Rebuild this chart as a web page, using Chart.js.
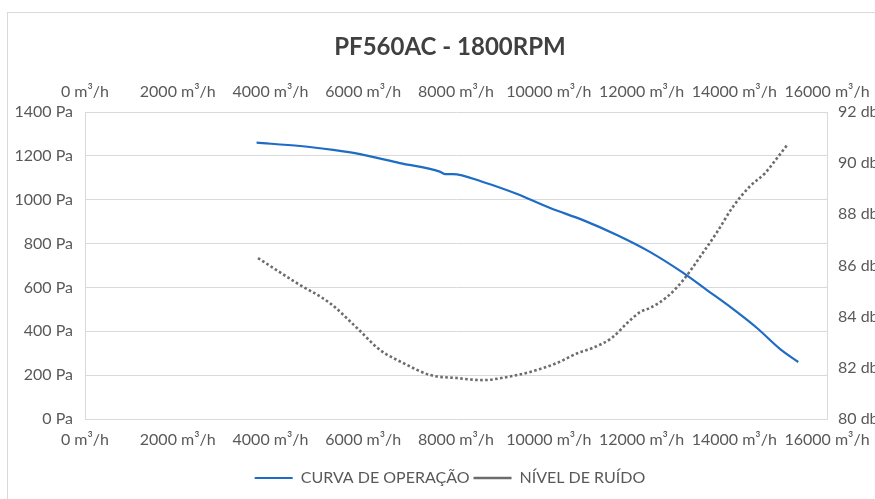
<!DOCTYPE html>
<html><head><meta charset="utf-8">
<script src="https://cdn.jsdelivr.net/npm/chart.js@4"></script>
<style>
html,body{margin:0;padding:0;background:#fff;overflow:hidden;width:875px;height:499px;}
#frame{position:absolute;left:7px;top:12px;width:1000px;height:1000px;border:1px solid #d9d9d9;box-sizing:border-box;}
#wrap{position:absolute;left:0;top:0;width:900px;height:499px;}
</style></head><body>
<div id="frame"></div>
<div id="wrap"><canvas id="c"></canvas></div>
<script>
const chartTitle = 'PF560AC - 1800RPM';
const seriesNames = ['CURVA DE OPERAÇÃO', 'NÍVEL DE RUÍDO'];

const curveFlow     = [3700, 4640, 5350, 5930, 6790, 7650, 7760, 7930, 8580, 9320, 10030, 10740, 11470, 12180, 12900, 13410, 13970, 14490, 14990, 15380];
const curvePressure = [1260, 1245, 1227, 1208, 1167, 1128, 1117, 1117, 1081, 1026, 962, 907, 839, 762, 666, 588, 502, 415, 319, 260];

const noiseFlow  = [3730, 4570, 5280, 5870, 6360, 6860, 7440, 8020, 8580, 9100, 9600, 10180, 10630, 10950, 11360, 11690, 11970, 12180, 12550, 12900, 13260, 13630, 13970, 14340, 14660, 14860, 15140];
const noiseLevel = [86.29, 85.31, 84.53, 83.55, 82.70, 82.19, 81.72, 81.60, 81.52, 81.64, 81.84, 82.19, 82.58, 82.78, 83.17, 83.75, 84.18, 84.34, 84.77, 85.43, 86.33, 87.31, 88.29, 89.10, 89.60, 90.05, 90.71];

const flowTicks     = [0, 2000, 4000, 6000, 8000, 10000, 12000, 14000, 16000];
const pressureTicks = [0, 200, 400, 600, 800, 1000, 1200, 1400];
const noiseTicks    = [80, 82, 84, 86, 88, 90, 92];

const TXT = '#595959';
const GRID = '#d9d9d9';
Chart.defaults.font.family = 'Lato, "Open Sans", sans-serif';
Chart.defaults.color = TXT;

const setTicks = arr => scale => { scale.ticks = arr.map(v => ({value: v})); };
const tickFont = {size: 16};

const xAxis = (pos, h, pad) => ({
  type: 'linear', position: pos,
  min: flowTicks[0], max: flowTicks[flowTicks.length - 1],
  grid: {display: false, drawTicks: false},
  border: {display: false},
  afterBuildTicks: setTicks(flowTicks),
  afterFit: s => { s.height = h; },
  ticks: {font: tickFont, color: TXT, padding: pad, autoSkip: false, maxRotation: 0, minRotation: 0,
          callback: v => v + ' m³/h'}
});

new Chart(document.getElementById('c'), {
  type: 'line',
  data: {
    datasets: [
      {
        label: seriesNames[0],
        data: curveFlow.map((x, i) => ({x: x, y: curvePressure[i]})),
        xAxisID: 'x', yAxisID: 'y',
        borderColor: '#1f6cc4', backgroundColor: '#1f6cc4',
        borderWidth: 2.2, pointRadius: 0, cubicInterpolationMode: 'monotone', fill: false
      },
      {
        label: seriesNames[1],
        data: noiseFlow.map((x, i) => ({x: x, y: noiseLevel[i]})),
        xAxisID: 'x', yAxisID: 'y1',
        borderColor: '#6c6c6c', backgroundColor: '#6c6c6c',
        borderWidth: 2.6, borderDash: [2.6, 2.4], pointRadius: 0,
        cubicInterpolationMode: 'monotone', fill: false
      }
    ]
  },
  options: {
    responsive: true, maintainAspectRatio: false, animation: false,
    layout: {padding: {left: 0, right: 0, top: 0, bottom: 3}},
    plugins: {
      title: {display: true, text: chartTitle, color: '#404040',
              font: {size: 24, weight: 'bold'}, padding: {top: 32.6, bottom: 10}},
      legend: {position: 'bottom',
               labels: {usePointStyle: true, pointStyle: 'line', pointStyleWidth: 38, boxHeight: 16,
                        padding: 4, color: TXT, font: {size: 16}}},
      tooltip: {enabled: false}
    },
    scales: {
      x: xAxis('bottom', 47, 11.4),
      x2: xAxis('top', 40.6, 10.4),
      y: {
        type: 'linear', position: 'left',
        min: pressureTicks[0], max: pressureTicks[pressureTicks.length - 1],
        afterBuildTicks: setTicks(pressureTicks),
        afterFit: s => { s.width = 85; },
        grid: {display: true, color: GRID, lineWidth: 1, drawTicks: false},
        border: {display: true, color: GRID},
        ticks: {font: tickFont, color: TXT, padding: 12, callback: v => v + ' Pa'}
      },
      y1: {
        type: 'linear', position: 'right',
        min: noiseTicks[0], max: noiseTicks[noiseTicks.length - 1],
        afterBuildTicks: setTicks(noiseTicks),
        afterFit: s => { s.width = 73; },
        grid: {display: false, drawTicks: false},
        border: {display: true, color: GRID},
        ticks: {font: tickFont, color: TXT, padding: 11, callback: v => v + ' db'}
      }
    }
  }
});
</script>
</body></html>
